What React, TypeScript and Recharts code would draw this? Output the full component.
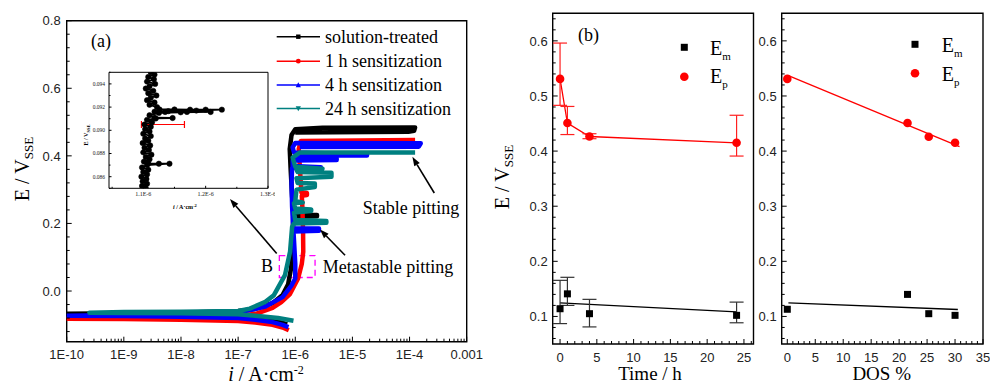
import React from 'react';
import { ComposedChart, Line, Scatter, ErrorBar, XAxis, YAxis, ReferenceArea, ReferenceLine } from 'recharts';

const SERIF = '"Liberation Serif", "Times New Roman", serif';
const SANS = '"Liberation Sans", Arial, sans-serif';

// ---------- Panel (a): polarization curves (i in A/cm2, E in V_SSE) ----------
const solutionTreated = [
  { i: 7.2e-7, E: -0.099 }, { i: 5.0e-7, E: -0.090 }, { i: 3.0e-7, E: -0.083 }, { i: 1.0e-7, E: -0.075 },
  { i: 1.0e-8, E: -0.070 }, { i: 1.0e-9, E: -0.068 }, { i: 1.0e-10, E: -0.067 }, { i: 1.0e-9, E: -0.066 },
  { i: 1.0e-8, E: -0.064 }, { i: 1.0e-7, E: -0.059 }, { i: 2.0e-7, E: -0.053 }, { i: 4.0e-7, E: -0.036 },
  { i: 6.0e-7, E: -0.012 }, { i: 7.5e-7, E: 0.020 }, { i: 8.5e-7, E: 0.070 }, { i: 9.0e-7, E: 0.150 },
  { i: 9.2e-7, E: 0.219 }, { i: 2.4e-6, E: 0.221 }, { i: 2.4e-6, E: 0.225 }, { i: 9.5e-7, E: 0.226 },
  { i: 8.8e-7, E: 0.280 }, { i: 8.3e-7, E: 0.360 }, { i: 8.0e-7, E: 0.420 }, { i: 8.6e-7, E: 0.462 },
  { i: 1.0e-6, E: 0.479 }, { i: 3.0e-6, E: 0.483 }, { i: 1.25e-4, E: 0.484 }, { i: 1.2e-4, E: 0.474 },
  { i: 9.5e-5, E: 0.471 }, { i: 1.0e-6, E: 0.469 },
];
const sens1h = [
  { i: 7.7e-7, E: -0.116 }, { i: 6.0e-7, E: -0.108 }, { i: 4.0e-7, E: -0.100 }, { i: 2.0e-7, E: -0.093 },
  { i: 1.0e-7, E: -0.089 }, { i: 1.0e-8, E: -0.085 }, { i: 1.0e-9, E: -0.083 }, { i: 1.0e-10, E: -0.082 },
  { i: 1.0e-9, E: -0.079 }, { i: 1.0e-8, E: -0.077 }, { i: 1.0e-7, E: -0.073 }, { i: 2.1e-7, E: -0.067 },
  { i: 4.0e-7, E: -0.050 }, { i: 5.7e-7, E: -0.033 }, { i: 8.0e-7, E: -0.010 }, { i: 1.12e-6, E: 0.037 },
  { i: 1.3e-6, E: 0.080 }, { i: 1.38e-6, E: 0.116 }, { i: 1.37e-6, E: 0.170 }, { i: 1.33e-6, E: 0.250 },
  { i: 1.3e-6, E: 0.282 }, { i: 1.6e-6, E: 0.284 }, { i: 1.6e-6, E: 0.290 }, { i: 1.28e-6, E: 0.292 },
  { i: 1.22e-6, E: 0.350 }, { i: 1.15e-6, E: 0.420 }, { i: 1.25e-6, E: 0.444 }, { i: 1.25e-4, E: 0.447 },
];
const sens4h = [
  { i: 7.6e-7, E: -0.107 }, { i: 6.0e-7, E: -0.100 }, { i: 4.0e-7, E: -0.092 }, { i: 2.0e-7, E: -0.085 },
  { i: 1.0e-7, E: -0.080 }, { i: 1.0e-8, E: -0.076 }, { i: 1.0e-9, E: -0.074 }, { i: 1.0e-10, E: -0.073 },
  { i: 1.0e-9, E: -0.071 }, { i: 1.0e-8, E: -0.069 }, { i: 1.0e-7, E: -0.064 }, { i: 3.0e-7, E: -0.046 },
  { i: 6.0e-7, E: -0.018 }, { i: 8.5e-7, E: 0.015 }, { i: 1.0e-6, E: 0.037 }, { i: 1.0e-6, E: 0.080 },
  { i: 9.5e-7, E: 0.150 }, { i: 9.3e-7, E: 0.176 }, { i: 2.6e-6, E: 0.178 }, { i: 2.6e-6, E: 0.185 },
  { i: 9.2e-7, E: 0.186 }, { i: 8.8e-7, E: 0.250 }, { i: 8.6e-7, E: 0.320 }, { i: 8.8e-7, E: 0.364 },
  { i: 2.8e-6, E: 0.366 }, { i: 9.0e-7, E: 0.370 }, { i: 9.0e-7, E: 0.386 }, { i: 5.3e-6, E: 0.388 },
  { i: 5.3e-6, E: 0.392 }, { i: 9.2e-7, E: 0.394 }, { i: 1.2e-6, E: 0.401 }, { i: 1.8e-5, E: 0.401 },
  { i: 1.8e-5, E: 0.405 }, { i: 9.5e-7, E: 0.410 }, { i: 9.0e-7, E: 0.425 }, { i: 1.0e-6, E: 0.438 },
  { i: 1.57e-4, E: 0.437 }, { i: 1.45e-4, E: 0.427 }, { i: 1.2e-6, E: 0.426 },
];
const sens24h = [
  { i: 9.3e-7, E: -0.088 }, { i: 5.0e-7, E: -0.080 }, { i: 2.0e-7, E: -0.073 }, { i: 1.0e-7, E: -0.069 },
  { i: 1.0e-8, E: -0.066 }, { i: 1.0e-9, E: -0.065 }, { i: 2.5e-10, E: -0.064 }, { i: 1.0e-9, E: -0.062 },
  { i: 1.0e-8, E: -0.061 }, { i: 1.0e-7, E: -0.059 }, { i: 1.6e-7, E: -0.052 }, { i: 3.0e-7, E: -0.032 },
  { i: 4.2e-7, E: -0.013 }, { i: 6.6e-7, E: 0.047 }, { i: 8.1e-7, E: 0.116 }, { i: 8.8e-7, E: 0.190 },
  { i: 9.5e-7, E: 0.200 }, { i: 3.5e-6, E: 0.202 }, { i: 3.5e-6, E: 0.207 }, { i: 1.0e-6, E: 0.210 },
  { i: 9.5e-7, E: 0.232 }, { i: 1.9e-6, E: 0.237 }, { i: 1.9e-6, E: 0.241 }, { i: 1.0e-6, E: 0.244 },
  { i: 9.5e-7, E: 0.260 }, { i: 1.35e-6, E: 0.262 }, { i: 1.0e-6, E: 0.266 }, { i: 1.05e-6, E: 0.300 },
  { i: 2.2e-6, E: 0.308 }, { i: 2.2e-6, E: 0.318 }, { i: 1.1e-6, E: 0.320 }, { i: 1.05e-6, E: 0.334 },
  { i: 4.3e-6, E: 0.338 }, { i: 4.3e-6, E: 0.350 }, { i: 1.1e-6, E: 0.352 }, { i: 1.05e-6, E: 0.360 },
  { i: 3.0e-6, E: 0.362 }, { i: 1.0e-6, E: 0.368 }, { i: 9.0e-7, E: 0.395 }, { i: 1.2e-6, E: 0.410 },
  { i: 1.25e-4, E: 0.410 },
];
const seriesA = [
  { name: 'solution-treated', data: solutionTreated, color: '#000000', marker: 'square' },
  { name: '1 h sensitization', data: sens1h, color: '#ff0000', marker: 'circle' },
  { name: '4 h sensitization', data: sens4h, color: '#0000ff', marker: 'up' },
  { name: '24 h sensitization', data: sens24h, color: '#008080', marker: 'down' },
];
const aXMajors = [1e-10, 1e-9, 1e-8, 1e-7, 1e-6, 1e-5, 1e-4, 1e-3];
const aXLabels = ['1E-10', '1E-9', '1E-8', '1E-7', '1E-6', '1E-5', '1E-4', '0.001'];
const aYMajors = [0.0, 0.2, 0.4, 0.6, 0.8];

// ---------- Inset (region B) ----------
const insetCurve = [
  { i: 1.112e-6, E: 0.0950 }, { i: 1.118e-6, E: 0.0948 }, { i: 1.108e-6, E: 0.0946 }, { i: 1.117e-6, E: 0.0944 },
  { i: 1.106e-6, E: 0.0942 }, { i: 1.119e-6, E: 0.0940 }, { i: 1.110e-6, E: 0.0938 }, { i: 1.104e-6, E: 0.0936 },
  { i: 1.116e-6, E: 0.0934 }, { i: 1.108e-6, E: 0.0932 }, { i: 1.121e-6, E: 0.0930 }, { i: 1.112e-6, E: 0.0928 },
  { i: 1.106e-6, E: 0.0926 }, { i: 1.118e-6, E: 0.0924 }, { i: 1.110e-6, E: 0.0922 }, { i: 1.122e-6, E: 0.0920 },
  { i: 1.126e-6, E: 0.09180 }, { i: 1.150e-6, E: 0.09180 }, { i: 1.175e-6, E: 0.09178 }, { i: 1.200e-6, E: 0.09178 },
  { i: 1.226e-6, E: 0.09178 }, { i: 1.185e-6, E: 0.09170 }, { i: 1.140e-6, E: 0.09165 }, { i: 1.118e-6, E: 0.09160 },
  { i: 1.135e-6, E: 0.09158 }, { i: 1.170e-6, E: 0.09158 }, { i: 1.208e-6, E: 0.09158 }, { i: 1.160e-6, E: 0.09155 },
  { i: 1.125e-6, E: 0.09150 }, { i: 1.110e-6, E: 0.09130 }, { i: 1.118e-6, E: 0.09108 }, { i: 1.147e-6, E: 0.09106 },
  { i: 1.120e-6, E: 0.09102 }, { i: 1.106e-6, E: 0.0909 }, { i: 1.114e-6, E: 0.0907 }, { i: 1.102e-6, E: 0.0905 },
  { i: 1.112e-6, E: 0.0903 }, { i: 1.103e-6, E: 0.0901 }, { i: 1.110e-6, E: 0.0899 }, { i: 1.100e-6, E: 0.0897 },
  { i: 1.112e-6, E: 0.0895 }, { i: 1.103e-6, E: 0.0893 }, { i: 1.108e-6, E: 0.0891 }, { i: 1.099e-6, E: 0.0889 },
  { i: 1.111e-6, E: 0.0887 }, { i: 1.102e-6, E: 0.0885 }, { i: 1.109e-6, E: 0.0883 }, { i: 1.100e-6, E: 0.0881 },
  { i: 1.113e-6, E: 0.0879 }, { i: 1.104e-6, E: 0.0877 }, { i: 1.110e-6, E: 0.0875 }, { i: 1.101e-6, E: 0.0873 },
  { i: 1.108e-6, E: 0.08715 }, { i: 1.125e-6, E: 0.08712 }, { i: 1.142e-6, E: 0.08712 }, { i: 1.106e-6, E: 0.0870 },
  { i: 1.098e-6, E: 0.0868 }, { i: 1.108e-6, E: 0.0866 }, { i: 1.100e-6, E: 0.0864 }, { i: 1.106e-6, E: 0.0862 },
  { i: 1.097e-6, E: 0.0860 }, { i: 1.105e-6, E: 0.0858 }, { i: 1.099e-6, E: 0.0856 }, { i: 1.106e-6, E: 0.0854 },
  { i: 1.098e-6, E: 0.0852 }, { i: 1.104e-6, E: 0.0850 },
];
const insetWidthBar = { from: 1.097e-6, to: 1.166e-6, E: 0.0905 };
const insetXMajors = [1.1e-6, 1.2e-6, 1.3e-6];
const insetXMinors = [1.05e-6, 1.15e-6, 1.25e-6];
const insetYMajors = [0.086, 0.088, 0.090, 0.092, 0.094];
const insetYMinors = [0.085, 0.087, 0.089, 0.091, 0.093, 0.095];

// ---------- Panel (b): vs time ----------
const timeH = [0, 1, 4, 24];
const EmTimeVals = [0.114, 0.141, 0.105, 0.102];
const EmTimeErrLow = [0.027, 0.021, 0.024, 0.0135];
const EmTimeErrHigh = [0.0515, 0.030, 0.026, 0.024];
const EpTimeVals = [0.531, 0.451, 0.4265, 0.415];
const EpTimeErrLow = [0.048, 0.021, 0.004, 0.024];
const EpTimeErrHigh = [0.065, 0.030, 0.005, 0.050];
const EmFitTime = [{ x: 0, y: 0.1247 }, { x: 24, y: 0.1082 }];

// ---------- Panel (c): vs DOS ----------
const dosPct = [0, 21.5, 25.3, 30.0];
const EmDosVals = [0.113, 0.140, 0.105, 0.102];
const EpDosVals = [0.531, 0.451, 0.426, 0.415];
const EpFitDos = [{ x: 0.2, y: 0.537 }, { x: 30.8, y: 0.408 }];
const EmFitDos = [{ x: 0.2, y: 0.1247 }, { x: 30.5, y: 0.1126 }];

const bcYMajors = [0.1, 0.2, 0.3, 0.4, 0.5, 0.6];
const bXMajors = [0, 5, 10, 15, 20, 25];
const cXMajors = [0, 5, 10, 15, 20, 25, 30, 35];

// ---------- derived tables ----------
const EmTime = timeH.map((t, k) => ({ x: t, y: EmTimeVals[k], err: [EmTimeErrLow[k], EmTimeErrHigh[k]] }));
const EpTime = timeH.map((t, k) => ({ x: t, y: EpTimeVals[k], err: [EpTimeErrLow[k], EpTimeErrHigh[k]] }));
const EmDos = dosPct.map((d, k) => ({ x: d, y: EmDosVals[k] }));
const EpDos = dosPct.map((d, k) => ({ x: d, y: EpDosVals[k] }));

const range = (a: number, b: number, s: number) => {
  const out: number[] = [];
  for (let v = a; v <= b + 1e-9; v += s) out.push(Math.round(v * 1e6) / 1e6);
  return out;
};
const aXMinors: number[] = [];
for (let e = -10; e <= -4; e++) for (let m = 2; m <= 9; m++) aXMinors.push(m * Math.pow(10, e));
const aXTicks = [...aXMajors, ...aXMinors].sort((p, q) => p - q);
const aYTicks = range(-0.12, 0.8, 0.04);
const bcYTicks = range(0.06, 0.64, 0.02);
const bXTicks = range(0, 26, 1);
const cXTicks = range(0, 35, 1);
const insetXTicks = [...insetXMajors, ...insetXMinors].sort((p, q) => p - q);
const insetYTicks = [...insetYMajors, ...insetYMinors].sort((p, q) => p - q);

const isIn = (arr: number[], v: number) => arr.some((a) => Math.abs(a - v) <= Math.abs(a) * 1e-6 + 1e-12);

function LeftTick(props: any) {
  const { x, y, payload, tkMaj, tkFmt, tkFs, tkFf, tkGap, tkL1, tkL2, tkW } = props;
  const major = isIn(tkMaj, payload.value);
  return (
    <g>
      <line x1={x} y1={y} x2={x + (major ? tkL1 : tkL2)} y2={y} stroke="#000" strokeWidth={tkW || 1} />
      {major ? (
        <text x={x - tkGap} y={y} dy="0.36em" textAnchor="end" fontSize={tkFs} fontFamily={tkFf} fill="#222">
          {tkFmt(payload.value)}
        </text>
      ) : null}
    </g>
  );
}
function BottomTick(props: any) {
  const { x, y, payload, tkMaj, tkFmt, tkFs, tkFf, tkGap, tkL1, tkL2, tkW } = props;
  const major = isIn(tkMaj, payload.value);
  return (
    <g>
      <line x1={x} y1={y} x2={x} y2={y - (major ? tkL1 : tkL2)} stroke="#000" strokeWidth={tkW || 1} />
      {major ? (
        <text x={x} y={y + tkGap} textAnchor="middle" fontSize={tkFs} fontFamily={tkFf} fill="#222">
          {tkFmt(payload.value)}
        </text>
      ) : null}
    </g>
  );
}

function Arrow(p: any) {
  const { x1, y1, x2, y2 } = p;
  const ang = Math.atan2(y2 - y1, x2 - x1);
  const L = 9, W = 3.2;
  const bx = x2 - L * Math.cos(ang), by = y2 - L * Math.sin(ang);
  const px = -Math.sin(ang) * W, py = Math.cos(ang) * W;
  return (
    <g>
      <line x1={x1} y1={y1} x2={bx} y2={by} stroke="#000" strokeWidth={1.6} />
      <polygon points={`${x2},${y2} ${bx + px},${by + py} ${bx - px},${by - py}`} fill="#000" />
    </g>
  );
}
function CappedBar(p: any) {
  const { x1, y1, x2, y2 } = p;
  return (
    <g stroke="#ff0000" strokeWidth={1.2}>
      <line x1={x1} y1={y1} x2={x2} y2={y2} />
      <line x1={x1} y1={y1 - 3.5} x2={x1} y2={y1 + 3.5} />
      <line x1={x2} y1={y2 - 3.5} x2={x2} y2={y2 + 3.5} />
    </g>
  );
}

function Marker({ kind, cx, cy, color, s }: any) {
  if (kind === 'square') return <rect x={cx - s} y={cy - s} width={2 * s} height={2 * s} fill={color} />;
  if (kind === 'circle') return <circle cx={cx} cy={cy} r={s * 1.1} fill={color} />;
  if (kind === 'up') return <polygon points={`${cx},${cy - s * 1.3} ${cx - s * 1.2},${cy + s} ${cx + s * 1.2},${cy + s}`} fill={color} />;
  return <polygon points={`${cx},${cy + s * 1.3} ${cx - s * 1.2},${cy - s} ${cx + s * 1.2},${cy - s}`} fill={color} />;
}

const fmt1 = (v: number) => v.toFixed(1);
const fmtA = (v: number) => aXLabels[aXMajors.findIndex((a) => Math.abs(a - v) <= a * 1e-6)];
const fmtInsetX = (v: number) => `${(v * 1e6).toFixed(1)}E-6`;
const fmtInt = (v: number) => String(Math.round(v));

export default function App() {
  const legendRows = [36.7, 61.2, 85, 108.5];
  return (
    <div style={{ position: 'absolute', left: 0, top: 0, width: 990, height: 385, background: '#fff', overflow: 'hidden' }}>
      {/* Panel (a) */}
      <div style={{ position: 'absolute', left: 0, top: 0 }}>
        <ComposedChart width={488} height={385} margin={{ top: 20.7, right: 21.3, bottom: 13.3, left: 16.7 }}>
          <XAxis dataKey="i" type="number" scale="log" domain={[1e-10, 1e-3]} allowDataOverflow ticks={aXTicks} interval={0}
            tickSize={0} tickMargin={0} axisLine={false} tickLine={false} height={30}
            tick={<BottomTick tkMaj={aXMajors} tkFmt={fmtA} tkFs={13} tkFf={SANS} tkGap={17} tkL1={5} tkL2={3} />} />
          <YAxis type="number" domain={[-0.15, 0.8]} allowDataOverflow ticks={aYTicks} interval={0}
            tickSize={0} tickMargin={0} axisLine={false} tickLine={false} width={50}
            tick={<LeftTick tkMaj={aYMajors} tkFmt={fmt1} tkFs={13} tkFf={SANS} tkGap={6} tkL1={5} tkL2={3} />} />
          <ReferenceArea x1={1e-10} x2={1e-3} y1={-0.15} y2={0.8} fill="none" stroke="#000" strokeWidth={1.4} ifOverflow="visible" />
          {seriesA.map((s) => (
            <Line key={s.name} data={s.data} dataKey="E" type="linear" stroke={s.color} strokeWidth={4.5}
              strokeLinejoin="round" dot={false} activeDot={false} isAnimationActive={false} />
          ))}
          <ReferenceArea x1={5.26e-7} x2={2.22e-6} y1={0.04} y2={0.105} fill="none" stroke="#ff00ff"
            strokeWidth={1.3} strokeDasharray="6 4" ifOverflow="visible" />
          <ReferenceLine segment={[{ x: 4.73e-7, y: 0.111 }, { x: 7.21e-8, y: 0.272 }]} shape={Arrow} ifOverflow="visible" />
          <ReferenceLine segment={[{ x: 2.71e-4, y: 0.29 }, { x: 1.12e-4, y: 0.397 }]} shape={Arrow} ifOverflow="visible" />
          <ReferenceLine segment={[{ x: 7.43e-6, y: 0.106 }, { x: 2.71e-6, y: 0.182 }]} shape={Arrow} ifOverflow="visible" />
          <text x={101} y={47} textAnchor="middle" fontFamily={SERIF} fontSize={18}>(a)</text>
          <text x={267} y={271.5} textAnchor="middle" fontFamily={SERIF} fontSize={18}>B</text>
          <text x={388} y={272.5} textAnchor="middle" fontFamily={SERIF} fontSize={18}>Metastable pitting</text>
          <text x={411} y={214} textAnchor="middle" fontFamily={SERIF} fontSize={18}>Stable pitting</text>
          <text x={29} y={169} transform="rotate(-90 29 169)" textAnchor="middle" fontFamily={SERIF} fontSize={20}>
            E / V<tspan fontSize={13} dy={4}>SSE</tspan>
          </text>
          <text x={266} y={381} textAnchor="middle" fontFamily={SERIF} fontSize={20}>
            <tspan fontStyle="italic">i</tspan> / A·cm<tspan fontSize={12} dy={-7}>-2</tspan>
          </text>
          {seriesA.map((s, k) => (
            <g key={'lg' + k}>
              <line x1={276.7} x2={320} y1={legendRows[k]} y2={legendRows[k]} stroke={s.color} strokeWidth={1.5} />
              <Marker kind={s.marker} cx={298.3} cy={legendRows[k]} color={s.color} s={2.2} />
              <text x={325} y={legendRows[k] + 6} fontFamily={SERIF} fontSize={18}>{s.name}</text>
            </g>
          ))}
        </ComposedChart>
      </div>

      {/* Inset */}
      <div style={{ position: 'absolute', left: 60, top: 55 }}>
        <ComposedChart width={215} height={160} margin={{ top: 17.3, right: 7, bottom: 10.7, left: 19 }}>
          <XAxis dataKey="i" type="number" domain={[1.045e-6, 1.3e-6]} allowDataOverflow ticks={insetXTicks} interval={0}
            tickSize={0} tickMargin={0} axisLine={false} tickLine={false} height={16}
            tick={<BottomTick tkMaj={insetXMajors} tkFmt={fmtInsetX} tkFs={6} tkFf={SERIF} tkGap={8} tkL1={2.5} tkL2={1.5} />} />
          <YAxis type="number" domain={[0.085, 0.095]} allowDataOverflow ticks={insetYTicks} interval={0}
            tickSize={0} tickMargin={0} axisLine={false} tickLine={false} width={30}
            tick={<LeftTick tkMaj={insetYMajors} tkFmt={(v: number) => v.toFixed(3)} tkFs={5.5} tkFf={SERIF} tkGap={4} tkL1={2.5} tkL2={1.5} />} />
          <ReferenceArea x1={1.045e-6} x2={1.3e-6} y1={0.085} y2={0.095} fill="#fff" fillOpacity={1} stroke="#000" strokeWidth={1} ifOverflow="visible" />
          <Line data={insetCurve} dataKey="E" type="linear" stroke="#000" strokeWidth={1.8}
            dot={{ r: 2.7, fill: '#000', stroke: '#000', strokeWidth: 0.5 }} activeDot={false} isAnimationActive={false} />
          <ReferenceLine segment={[{ x: insetWidthBar.from, y: insetWidthBar.E }, { x: insetWidthBar.to, y: insetWidthBar.E }]}
            shape={CappedBar} ifOverflow="visible" />
          <text x={168.3} y={59.7} fontFamily={SERIF} fontSize={13} fontWeight="bold">
            E<tspan fontSize={10} dy={3}>m</tspan>
          </text>
          <text x={128.7} y={87} textAnchor="middle" fontFamily={SERIF} fontSize={8} fontWeight="bold">
            0.06 μA/cm<tspan fontSize={5.5} dy={-3.5}>2</tspan>
          </text>
          <text x={28} y={80} transform="rotate(-90 28 80)" textAnchor="middle" fontFamily={SERIF} fontSize={6} fontWeight="bold">
            E / V<tspan fontSize={4.5} dy={1.5}>SSE</tspan>
          </text>
          <text x={125} y={154} textAnchor="middle" fontFamily={SERIF} fontSize={6} fontWeight="bold">
            <tspan fontStyle="italic">i</tspan> / A·cm<tspan fontSize={4.5} dy={-2.5}>-2</tspan>
          </text>
        </ComposedChart>
      </div>

      {/* Panel (b) */}
      <div style={{ position: 'absolute', left: 490, top: 0 }}>
        <ComposedChart width={265} height={385} margin={{ top: 13.3, right: 1.5, bottom: 13, left: 17.7 }}>
          <XAxis dataKey="x" type="number" domain={[-1, 26.3]} allowDataOverflow ticks={bXTicks} interval={0}
            tickSize={0} tickMargin={0} axisLine={false} tickLine={false} height={28}
            tick={<BottomTick tkMaj={bXMajors} tkFmt={fmtInt} tkFs={13} tkFf={SANS} tkGap={17.5} tkL1={5} tkL2={3} />} />
          <YAxis dataKey="y" type="number" domain={[0.05, 0.65]} allowDataOverflow ticks={bcYTicks} interval={0}
            tickSize={0} tickMargin={0} axisLine={false} tickLine={false} width={45}
            tick={<LeftTick tkMaj={bcYMajors} tkFmt={fmt1} tkFs={13} tkFf={SANS} tkGap={5} tkL1={5} tkL2={3} />} />
          <ReferenceArea x1={-1} x2={26.3} y1={0.05} y2={0.65} fill="none" stroke="#000" strokeWidth={1.4} ifOverflow="visible" />
          <Line data={EpTime} dataKey="y" type="linear" stroke="#ff0000" strokeWidth={1.3} dot={false} activeDot={false} isAnimationActive={false} />
          <Line data={EmFitTime} dataKey="y" type="linear" stroke="#000" strokeWidth={1.3} dot={false} activeDot={false} isAnimationActive={false} />
          <Scatter data={EmTime} dataKey="y" isAnimationActive={false}
            shape={(p: any) => <rect x={p.cx - 3.5} y={p.cy - 3.5} width={7} height={7} fill="#000" />}>
            <ErrorBar dataKey="err" direction="y" width={7} stroke="#333" strokeWidth={1.2} />
          </Scatter>
          <Scatter data={EpTime} dataKey="y" isAnimationActive={false}
            shape={(p: any) => <circle cx={p.cx} cy={p.cy} r={4.3} fill="#ff0000" />}>
            <ErrorBar dataKey="err" direction="y" width={7} stroke="#ff2020" strokeWidth={1.2} />
          </Scatter>
          <text x={98.5} y={41} textAnchor="middle" fontFamily={SERIF} fontSize={18}>(b)</text>
          <text x={19} y={177} transform="rotate(-90 19 177)" textAnchor="middle" fontFamily={SERIF} fontSize={20}>
            E / V<tspan fontSize={13} dy={4}>SSE</tspan>
          </text>
          <text x={160} y={380} textAnchor="middle" fontFamily={SERIF} fontSize={19}>Time / h</text>
          <rect x={190.8} y={43.8} width={7} height={7} fill="#000" />
          <text x={220} y={55} fontFamily={SERIF} fontSize={20}>E<tspan fontSize={11} dy={5}>m</tspan></text>
          <circle cx={194.3} cy={76.7} r={4.3} fill="#ff0000" />
          <text x={220} y={83.3} fontFamily={SERIF} fontSize={20}>E<tspan fontSize={11} dy={5}>p</tspan></text>
        </ComposedChart>
      </div>

      {/* Panel (c) */}
      <div style={{ position: 'absolute', left: 740, top: 0 }}>
        <ComposedChart width={250} height={385} margin={{ top: 13.3, right: 7, bottom: 13, left: 6.7 }}>
          <XAxis dataKey="x" type="number" domain={[-1, 35]} allowDataOverflow ticks={cXTicks} interval={0}
            tickSize={0} tickMargin={0} axisLine={false} tickLine={false} height={28}
            tick={<BottomTick tkMaj={cXMajors} tkFmt={fmtInt} tkFs={13} tkFf={SANS} tkGap={17.5} tkL1={5} tkL2={3} />} />
          <YAxis dataKey="y" type="number" domain={[0.05, 0.65]} allowDataOverflow ticks={bcYTicks} interval={0}
            tickSize={0} tickMargin={0} axisLine={false} tickLine={false} width={35}
            tick={<LeftTick tkMaj={bcYMajors} tkFmt={fmt1} tkFs={13} tkFf={SANS} tkGap={5} tkL1={5} tkL2={3} />} />
          <ReferenceArea x1={-1} x2={35} y1={0.05} y2={0.65} fill="none" stroke="#000" strokeWidth={1.4} ifOverflow="visible" />
          <Line data={EpFitDos} dataKey="y" type="linear" stroke="#ff0000" strokeWidth={1.3} dot={false} activeDot={false} isAnimationActive={false} />
          <Line data={EmFitDos} dataKey="y" type="linear" stroke="#000" strokeWidth={1.3} dot={false} activeDot={false} isAnimationActive={false} />
          <Scatter data={EmDos} dataKey="y" isAnimationActive={false}
            shape={(p: any) => <rect x={p.cx - 3.5} y={p.cy - 3.5} width={7} height={7} fill="#000" />} />
          <Scatter data={EpDos} dataKey="y" isAnimationActive={false}
            shape={(p: any) => <circle cx={p.cx} cy={p.cy} r={4.3} fill="#ff0000" />} />
          <text x={141.7} y={380} textAnchor="middle" fontFamily={SERIF} fontSize={19}>DOS %</text>
          <rect x={171.5} y={40.8} width={7} height={7} fill="#000" />
          <text x={201.7} y={52} fontFamily={SERIF} fontSize={20}>E<tspan fontSize={11} dy={5}>m</tspan></text>
          <circle cx={175} cy={73.3} r={4.3} fill="#ff0000" />
          <text x={201.7} y={81} fontFamily={SERIF} fontSize={20}>E<tspan fontSize={11} dy={5}>p</tspan></text>
        </ComposedChart>
      </div>
    </div>
  );
}
